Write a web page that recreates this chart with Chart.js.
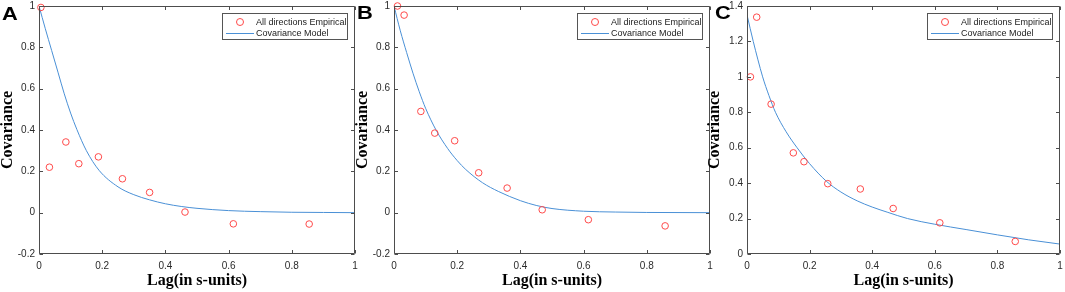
<!DOCTYPE html>
<html lang="en">
<head>
  <meta charset="UTF-8" />
  <title>Covariance models</title>
  <script src="https://cdn.jsdelivr.net/npm/chart.js"></script>
  <style>
    body {
      margin: 0;
      background: #fff;
      width: 1065px;
      height: 292px;
      overflow: hidden;
      position: relative;
      font-family: 'Liberation Sans', Arial, sans-serif;
    }
    canvas { position: absolute; top: 0; }
    .letter {
      position: absolute;
      font: bold 19px 'Liberation Sans', Arial, sans-serif;
      line-height: 19px;
      color: #000;
      transform: scaleX(1.15);
      transform-origin: left top;
    }
    .legend {
      position: absolute;
      width: 126px;
      height: 27px;
      box-sizing: border-box;
      border: 1px solid #555;
      background: #fff;
      font-size: 9px;
      color: #222;
    }
    .legend .txt { position: absolute; left: 33px; line-height: 10px; white-space: nowrap; }
    .legend .dot {
      position: absolute; left: 13px; width: 6px; height: 6px;
      border: 1px solid #ff4a4a; border-radius: 50%;
    }
    .legend .ln { position: absolute; left: 3px; width: 28px; height: 1px; background: #4a90d6; }
  </style>
</head>
<body>
  <canvas id="chartA" width="360" height="292" style="left:0px"></canvas>
  <canvas id="chartB" width="360" height="292" style="left:355px"></canvas>
  <canvas id="chartC" width="358" height="292" style="left:707px"></canvas>
  <div class="letter" style="left:2px;top:4px">A</div>
  <div class="letter" style="left:357px;top:3px">B</div>
  <div class="letter" style="left:715px;top:3px">C</div>

  <script>
    // empirical covariance points
    const lagA = [0.006, 0.033, 0.085, 0.126, 0.188, 0.264, 0.35, 0.462, 0.615, 0.855];
    const covA = [0.993, 0.22, 0.342, 0.237, 0.27, 0.164, 0.098, 0.003, -0.054, -0.055];
    const lagB = [0.011, 0.032, 0.085, 0.129, 0.192, 0.268, 0.358, 0.469, 0.615, 0.858];
    const covB = [1.0, 0.956, 0.49, 0.385, 0.348, 0.193, 0.119, 0.014, -0.034, -0.064];
    const lagC = [0.011, 0.031, 0.077, 0.148, 0.182, 0.258, 0.362, 0.467, 0.616, 0.857];
    const covC = [1.0, 1.337, 0.846, 0.571, 0.521, 0.397, 0.367, 0.257, 0.176, 0.071];

    // fitted model curves, sampled from the figure
    const modelLagA = [0, 0.02, 0.04, 0.06, 0.08, 0.1, 0.12, 0.15, 0.19, 0.25, 0.3, 0.35, 0.4, 0.45, 0.5, 0.6, 0.7, 0.8, 0.9, 1];
    const modelCovA = [1, 0.89, 0.785, 0.68, 0.575, 0.482, 0.402, 0.3, 0.205, 0.125, 0.087, 0.062, 0.043, 0.03, 0.021, 0.01, 0.005, 0.002, 0.001, 0];
    const modelLagB = [0, 0.02, 0.04, 0.06, 0.08, 0.1, 0.133, 0.17, 0.2, 0.227, 0.28, 0.33, 0.4, 0.45, 0.5, 0.6, 0.7, 0.8, 1];
    const modelCovB = [1, 0.88, 0.775, 0.675, 0.585, 0.505, 0.4, 0.31, 0.252, 0.209, 0.145, 0.103, 0.058, 0.035, 0.02, 0.007, 0.003, 0.001, 0];
    const modelLagC = [0, 0.02, 0.05, 0.07, 0.091, 0.125, 0.16, 0.2, 0.254, 0.3, 0.352, 0.4, 0.45, 0.513, 0.6, 0.7, 0.8, 0.9, 1];
    const modelCovC = [1.35, 1.2, 1.0, 0.895, 0.8, 0.69, 0.6, 0.51, 0.41, 0.35, 0.3, 0.265, 0.235, 0.2, 0.168, 0.138, 0.108, 0.08, 0.056];

    const empiricalLabel = 'All directions Empirical';
    const modelLabel = 'Covariance Model';
    const xTitle = 'Lag(in s-units)';
    const yTitle = 'Covariance';

    const axisColor = '#4d4d4d';
    const tickFont = { family: "'Liberation Sans', Arial, sans-serif", size: 10 };
    const titleFont = { family: "'Liberation Serif', 'Times New Roman', serif", size: 16, weight: 'bold', lineHeight: 1 };

    function fmt(v) {
      const r = Math.round(v * 10) / 10;
      return r === 0 ? '0' : String(r);
    }

    // box + inward tick marks, MATLAB style
    const framePlugin = {
      id: 'frame',
      afterDraw(chart) {
        const { ctx, chartArea: a, scales: { x, y } } = chart;
        const len = 3.5;
        const L = Math.round(a.left) + 0.5, R = Math.round(a.right) - 0.5;
        const T = Math.round(a.top) + 0.5, B = Math.round(a.bottom) - 0.5;
        ctx.save();
        ctx.strokeStyle = axisColor;
        ctx.lineWidth = 1;
        ctx.beginPath();
        ctx.moveTo(L, T); ctx.lineTo(R, T); ctx.lineTo(R, B); ctx.lineTo(L, B); ctx.closePath();
        x.ticks.forEach(t => {
          const px = Math.round(x.getPixelForValue(t.value)) + 0.5;
          ctx.moveTo(px, B); ctx.lineTo(px, B - len);
          ctx.moveTo(px, T); ctx.lineTo(px, T + len);
        });
        y.ticks.forEach(t => {
          const py = Math.round(y.getPixelForValue(t.value)) + 0.5;
          ctx.moveTo(L, py); ctx.lineTo(L + len, py);
          ctx.moveTo(R, py); ctx.lineTo(R - len, py);
        });
        ctx.stroke();
        ctx.restore();
      }
    };

    function makeChart(id, lags, covs, mLags, mCovs, yMin, yMax, yWidth, padRight) {
      return new Chart(document.getElementById(id), {
        type: 'scatter',
        data: {
          datasets: [
            {
              label: empiricalLabel,
              data: lags.map((v, i) => ({ x: v, y: covs[i] })),
              pointStyle: 'circle',
              pointRadius: 3.3,
              pointBorderWidth: 1,
              pointBorderColor: '#ff4a4a',
              pointBackgroundColor: 'rgba(0,0,0,0)',
              clip: false,
              order: 1
            },
            {
              label: modelLabel,
              type: 'line',
              data: mLags.map((v, i) => ({ x: v, y: mCovs[i] })),
              borderColor: '#4a90d6',
              borderWidth: 1,
              pointRadius: 0,
              fill: false,
              cubicInterpolationMode: 'monotone',
              order: 2
            }
          ]
        },
        options: {
          responsive: false,
          animation: false,
          layout: { padding: { top: 6, right: padRight, left: 0, bottom: 0 } },
          plugins: { legend: { display: false }, tooltip: { enabled: false } },
          scales: {
            x: {
              type: 'linear', min: 0, max: 1,
              grid: { display: false, drawTicks: false },
              border: { display: false },
              ticks: { stepSize: 0.2, color: '#2b2b2b', font: tickFont, padding: 6, maxRotation: 0, callback: fmt },
              title: { display: true, text: xTitle, color: '#000', font: titleFont, padding: { top: 0, bottom: 3 } },
              afterFit(s) { s.height = 38; s.paddingLeft = 0; s.paddingRight = 0; }
            },
            y: {
              type: 'linear', min: yMin, max: yMax,
              grid: { display: false, drawTicks: false },
              border: { display: false },
              ticks: { stepSize: 0.2, color: '#2b2b2b', font: tickFont, padding: 4, callback: fmt },
              title: { display: true, text: yTitle, color: '#000', font: titleFont, padding: { top: 0, bottom: 0 } },
              afterFit(s) { s.width = yWidth; s.paddingTop = 0; s.paddingBottom = 0; }
            }
          }
        },
        plugins: [framePlugin]
      });
    }

    const charts = [
      makeChart('chartA', lagA, covA, modelLagA, modelCovA, -0.2, 1, 39, 5),
      makeChart('chartB', lagB, covB, modelLagB, modelCovB, -0.2, 1, 39, 5),
      makeChart('chartC', lagC, covC, modelLagC, modelCovC, 0, 1.4, 40, 3)
    ];

    // legend boxes inside the top right corner of each plot, built from dataset labels
    const offsets = [0, 355, 707];
    charts.forEach((chart, k) => {
      const a = chart.chartArea;
      const box = document.createElement('div');
      box.className = 'legend';
      box.style.left = (offsets[k] + a.right - 7 - 126) + 'px';
      box.style.top = (a.top + 7) + 'px';
      const ds = chart.data.datasets;
      box.innerHTML =
        '<span class="dot" style="top:4px"></span>' +
        '<span class="txt" style="top:3px">' + ds[0].label + '</span>' +
        '<span class="ln" style="top:19px"></span>' +
        '<span class="txt" style="top:14px">' + ds[1].label + '</span>';
      document.body.appendChild(box);
    });
  </script>
</body>
</html>
